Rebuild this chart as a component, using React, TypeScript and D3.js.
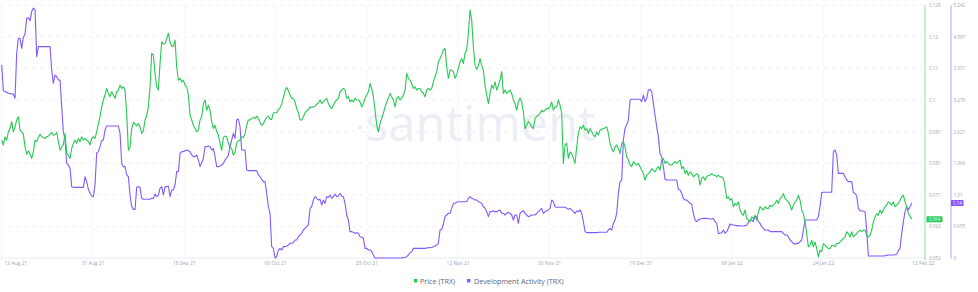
import React from "react";
import * as d3 from "d3";

// Price (TRX), sampled every 8 hours from 12 Aug 2021
const priceTRX: number[] = [
  0.0879,0.0864,0.0889,0.0879,0.0904,0.0914,0.0935,0.0904,0.0919,0.0940,
  0.0950,0.0909,0.0904,0.0897,0.0858,0.0836,0.0846,0.0836,0.0823,0.0843,
  0.0879,0.0874,0.0887,0.0897,0.0889,0.0887,0.0884,0.0889,0.0891,0.0897,
  0.0902,0.0894,0.0895,0.0902,0.0874,0.0848,0.0858,0.0865,0.0899,0.0838,
  0.0833,0.0823,0.0853,0.0869,0.0879,0.0869,0.0884,0.0874,0.0889,0.0879,
  0.0884,0.0879,0.0874,0.0864,0.0884,0.0889,0.0884,0.0904,0.0929,0.0950,
  0.0980,0.1001,0.1016,0.1036,0.1021,0.1011,0.1026,0.1016,0.1006,0.1026,
  0.1031,0.1046,0.1036,0.1041,0.1031,0.0960,0.0848,0.0858,0.0914,0.0933,
  0.0928,0.0922,0.0929,0.0919,0.0899,0.0907,0.0940,0.0952,0.0980,0.1041,
  0.1143,0.1138,0.1082,0.1041,0.1031,0.1112,0.1178,0.1171,0.1173,0.1188,
  0.1204,0.1178,0.1165,0.1163,0.1183,0.1102,0.1061,0.1067,0.1056,0.1061,
  0.1046,0.1041,0.1016,0.0955,0.0940,0.0924,0.0914,0.0904,0.0909,0.0940,
  0.0950,0.0990,0.1001,0.0970,0.0985,0.0970,0.0935,0.0914,0.0924,0.0904,
  0.0894,0.0869,0.0848,0.0887,0.0891,0.0889,0.0869,0.0858,0.0853,0.0833,
  0.0843,0.0869,0.0877,0.0879,0.0889,0.0887,0.0899,0.0924,0.0940,0.0940,
  0.0945,0.0948,0.0945,0.0952,0.0945,0.0932,0.0924,0.0928,0.0940,0.0948,
  0.0952,0.0942,0.0942,0.0962,0.0962,0.0962,0.0972,0.0977,0.0988,0.1008,
  0.1029,0.1039,0.1029,0.1016,0.1006,0.1006,0.0995,0.0975,0.0962,0.0940,
  0.0940,0.0950,0.0962,0.0968,0.0972,0.0980,0.0978,0.0980,0.0982,0.0988,
  0.0992,0.1001,
  0.0990,0.0995,0.1001,0.1006,0.0990,0.0980,0.0975,0.0985,0.0995,0.1001,
  0.1006,0.1026,0.1031,0.1036,0.1031,0.1006,0.1011,0.0995,0.1001,0.0995,
  0.1006,0.1001,0.1001,0.0995,0.0980,0.0990,0.1006,0.1016,0.1026,0.1051,
  0.1036,0.1011,0.0970,0.0924,0.0904,0.0929,0.0945,0.0960,0.0980,0.0995,
  0.1006,0.1021,0.1011,0.1001,0.0980,0.1006,0.1011,0.1001,0.1006,0.1016,
  0.1031,0.1082,0.1067,0.1061,0.1051,0.1036,0.1041,0.1031,0.1036,0.1036,
  0.1026,0.1021,0.1011,0.1031,0.1036,0.1031,0.1036,0.1056,0.1072,0.1087,
  0.1117,0.1127,0.1138,0.1153,0.1158,0.1102,0.1067,0.1092,0.1092,0.1087,
  0.1067,0.1077,0.1097,0.1117,0.1127,0.1112,0.1143,0.1153,0.1204,0.1275,
  0.1244,0.1163,0.1107,0.1094,0.1105,0.1127,0.1107,0.1092,0.1046,0.1016,
  0.0990,0.1021,0.1046,0.1036,0.1056,0.1031,0.1046,0.1061,0.1087,0.1021,
  0.1031,0.1021,0.1026,0.1031,0.1021,0.1001,0.0990,0.0970,0.0995,0.1006,
  0.0995,0.0965,0.0914,0.0924,0.0935,0.0929,0.0919,0.0914,0.0945,0.0950,
  0.0955,0.0960,0.0970,0.0965,0.0970,0.0975,0.0975,0.0980,0.0995,0.0970,
  0.0980,0.0980,0.1001,0.0985,0.0960,0.0808,0.0864,0.0869,0.0823,0.0843,
  0.0838,0.0823,0.0808,0.0858,0.0899,0.0919,0.0914,0.0924,0.0909,0.0914,
  0.0899,0.0914,0.0904,0.0894,0.0889,0.0904,0.0894,0.0909,
  0.0912,0.0914,0.0916,0.0919,0.0899,0.0869,0.0853,0.0843,0.0858,0.0864,
  0.0853,0.0838,0.0869,0.0874,0.0858,0.0828,0.0818,0.0803,0.0798,0.0813,
  0.0808,0.0803,0.0808,0.0798,0.0787,0.0777,0.0757,0.0772,0.0777,0.0782,
  0.0792,0.0787,0.0782,0.0792,0.0798,0.0787,0.0818,0.0823,0.0808,0.0813,
  0.0808,0.0803,0.0803,0.0808,0.0813,0.0808,0.0813,0.0818,0.0792,0.0798,
  0.0777,0.0787,0.0772,0.0782,0.0777,0.0767,0.0772,0.0777,0.0772,0.0742,
  0.0762,0.0767,0.0757,0.0767,0.0772,0.0772,0.0777,0.0772,0.0772,0.0767,
  0.0772,0.0767,0.0767,0.0762,0.0737,0.0701,0.0706,0.0696,0.0701,0.0676,
  0.0686,0.0681,0.0691,0.0666,0.0655,0.0650,0.0666,0.0640,0.0635,0.0630,
  0.0645,0.0640,0.0650,0.0635,0.0660,0.0676,0.0671,0.0666,0.0676,0.0671,
  0.0671,0.0681,0.0676,0.0681,0.0686,0.0696,0.0686,0.0701,0.0706,0.0716,
  0.0701,0.0696,0.0691,0.0681,0.0666,0.0681,0.0691,0.0696,0.0711,0.0696,
  0.0666,0.0655,0.0630,0.0595,0.0554,0.0559,0.0574,0.0554,0.0569,0.0549,
  0.0523,0.0544,0.0539,0.0564,0.0559,0.0554,0.0549,0.0549,0.0559,0.0559,
  0.0554,0.0564,0.0564,0.0569,0.0574,0.0579,0.0584,0.0600,0.0595,0.0584,
  0.0600,0.0584,0.0589,0.0595,0.0600,0.0605,0.0600,0.0605,0.0605,0.0589,
  0.0584,0.0589,0.0605,0.0630,0.0645,0.0655,0.0650,0.0666,0.0655,0.0666,
  0.0676,0.0681,0.0691,0.0686,0.0681,0.0691,0.0676,0.0681,0.0686,0.0696,
  0.0706,0.0711,0.0691,0.0676,0.0655,0.0648,0.0638,
];

// Development Activity (TRX), same sampling
const devActivityTRX: number[] = [
  4.000,3.467,3.447,3.433,3.412,3.405,3.398,3.398,3.308,4.241,
  4.552,4.545,4.344,4.572,4.635,4.966,4.980,4.918,5.104,5.180,
  5.146,4.172,4.379,4.379,4.379,4.379,4.379,4.379,4.379,4.379,
  3.896,3.619,3.792,3.757,3.688,3.688,3.136,2.618,2.445,1.962,
  1.927,1.858,1.478,1.464,1.464,1.464,1.464,1.464,1.464,1.464,
  1.685,1.582,1.423,1.340,1.285,1.271,1.513,2.183,2.203,2.307,
  2.431,2.445,2.652,2.735,2.735,2.735,2.735,2.735,2.735,2.735,
  2.735,2.583,1.962,1.893,1.893,1.720,1.685,1.305,1.064,1.008,
  1.008,1.464,1.478,1.464,1.236,1.216,1.216,1.216,1.216,1.216,
  1.236,1.236,1.326,1.271,1.305,1.444,1.478,1.305,1.478,1.478,
  1.492,1.271,1.409,1.409,1.513,1.789,1.789,2.169,2.203,2.203,
  2.224,2.238,2.224,2.203,2.134,2.100,2.100,2.134,2.031,1.893,
  1.975,2.065,2.307,2.307,2.321,2.307,2.238,2.272,2.100,1.893,
  1.893,1.906,1.927,1.962,2.031,2.065,2.134,2.307,2.445,2.583,
  2.480,2.859,2.880,2.721,2.238,2.238,2.238,1.823,1.810,1.810,
  1.810,1.810,1.810,1.810,1.720,1.685,1.630,1.582,1.582,1.340,
  1.064,0.926,0.235,0.200,0.000,0.028,0.166,0.200,0.166,0.235,
  0.235,0.249,0.269,0.304,0.304,0.318,0.373,0.373,0.442,0.477,
  0.511,0.580,0.615,0.649,0.684,1.029,1.064,1.202,1.271,1.236,
  1.202,1.216,
  1.098,1.202,1.133,1.271,1.257,1.305,1.236,1.271,1.326,1.271,
  1.285,1.340,1.285,1.271,1.133,0.891,0.787,0.546,0.546,0.532,
  0.511,0.525,0.511,0.442,0.428,0.408,0.200,0.200,0.166,0.166,
  0.131,0.062,0.000,0.000,0.000,0.000,0.000,0.000,0.000,0.000,
  0.000,0.000,0.000,0.000,0.000,0.000,0.000,0.000,0.000,0.007,
  0.014,0.028,0.062,0.111,0.131,0.200,0.200,0.200,0.200,0.200,
  0.200,0.200,0.200,0.207,0.214,0.214,0.221,0.235,0.249,0.269,
  0.304,0.580,0.594,0.705,0.856,0.891,0.926,0.926,1.029,1.133,
  1.133,1.153,1.167,1.167,1.167,1.167,1.167,1.167,1.236,1.271,
  1.236,1.223,1.202,1.202,1.167,1.153,1.133,1.064,1.029,0.960,
  0.856,0.960,0.960,0.981,0.960,0.960,0.981,0.995,0.926,0.926,
  0.891,0.926,0.946,0.926,0.891,0.787,0.891,0.891,0.718,0.926,
  0.960,0.981,0.926,0.891,0.856,0.870,0.891,0.891,0.891,0.926,
  0.960,0.995,1.029,0.926,0.960,0.981,0.995,1.029,1.202,1.167,
  1.064,1.050,1.050,1.050,1.050,1.050,1.050,1.029,1.008,1.029,
  0.995,0.960,0.926,0.974,0.960,0.995,0.926,0.753,0.546,0.525,
  0.525,0.525,0.525,0.525,0.525,0.525,0.532,0.532,
  0.532,0.532,0.532,0.532,0.580,0.615,0.580,0.718,0.787,0.926,
  1.340,1.582,1.616,2.445,2.687,2.756,2.859,3.274,3.288,3.288,
  3.288,3.288,3.288,3.288,3.239,3.377,3.239,3.308,3.481,3.495,
  3.447,3.205,2.963,2.721,2.514,2.155,2.100,1.893,1.630,1.616,
  1.616,1.616,1.616,1.616,1.616,1.616,1.423,1.409,1.340,1.236,
  1.202,1.202,1.167,1.133,1.119,0.926,0.787,0.753,0.787,0.808,
  0.815,0.822,0.822,0.822,0.815,0.808,0.808,0.822,0.753,0.718,
  0.511,0.511,0.525,0.580,0.511,0.546,0.615,0.705,0.684,0.684,
  0.677,0.670,0.670,0.663,0.663,0.663,0.670,0.684,0.732,0.787,
  0.787,0.753,0.870,0.856,0.753,0.718,0.649,0.615,0.580,0.580,
  0.580,0.546,0.546,0.546,0.546,0.546,0.546,0.546,0.546,0.511,
  0.477,0.477,0.442,0.373,0.338,0.304,0.283,0.304,0.304,0.338,
  0.373,0.580,0.787,0.787,0.787,0.787,0.787,0.787,0.787,0.787,
  0.856,1.064,1.354,1.361,1.361,1.361,1.361,1.361,1.361,2.203,
  2.238,2.134,1.754,1.754,1.754,1.754,1.685,1.616,1.582,1.582,
  1.582,1.354,1.340,1.285,1.029,0.981,0.974,0.967,0.960,0.580,
  0.041,0.041,0.041,0.041,0.041,0.041,0.041,0.041,0.041,0.041,
  0.048,0.055,0.062,0.062,0.062,0.062,0.069,0.083,0.152,0.200,
  0.511,0.753,0.960,1.064,0.995,1.064,1.140,
];

const START_UTC = Date.UTC(2021, 7, 12);
const STEP_HOURS = 8;

const xTickLabels = [
  "12 Aug 21", "31 Aug 21", "18 Sep 21", "06 Oct 21", "25 Oct 21", "12 Nov 21",
  "30 Nov 21", "19 Dec 21", "06 Jan 22", "24 Jan 22", "12 Feb 22",
];
const priceTickLabels = ["0.052", "0.062", "0.071", "0.081", "0.091", "0.1", "0.11", "0.12", "0.129"];
const devTickLabels = ["0", "0.655", "1.31", "1.966", "2.621", "3.276", "3.931", "4.587", "5.242"];
const priceDomain = [0.052, 0.129];
const devDomain = [0, 5.242];
const seriesNames = ["Price (TRX)", "Development Activity (TRX)"];

const GREEN = "#26c953";
const PURPLE = "#8358ff";
const LABEL = "#9ea5b8";

export default function App() {
  const W = 978, H = 292;
  const top = 5, bottom = 258;
  const n = priceTRX.length;
  const times = priceTRX.map((_, i) => new Date(START_UTC + i * STEP_HOURS * 3600e3));

  const x = d3.scaleTime().domain([times[0], times[n - 1]]).range([1.7, 911.7]);
  const xTick = d3.scalePoint<string>().domain(xTickLabels).range([1.7, 914.7]);
  const yPrice = d3.scaleLinear().domain(priceDomain).range([bottom, top]);
  const yDev = d3.scaleLinear().domain(devDomain).range([bottom, top]);
  const tickIndex = d3.scaleLinear().domain([0, 8]).range([bottom, top]);

  const priceLine = d3.line<number>().x((_, i) => x(times[i])).y((d) => yPrice(d));
  const devLine = d3.line<number>().x((_, i) => x(times[i])).y((d) => yDev(d));

  const lastPrice = priceTRX[n - 1];
  const lastDev = devActivityTRX[devActivityTRX.length - 1];
  const font = "'Open Sans', 'DejaVu Sans', sans-serif";

  return (
    <svg
      width={W}
      height={H}
      style={{ position: "absolute", left: 0, top: 0, background: "#fff" }}
      fontFamily={font}
    >
      {/* watermark */}
      <circle cx={360} cy={127.5} r={2.2} fill="#eceef5" />
      <text x={365} y={141} fontSize={49} fill="#eceef5" fontFamily={font}>
        santiment
      </text>

      {/* horizontal grid */}
      {priceTickLabels.map((_, i) =>
        i === 0 ? (
          <line key={"h" + i} x1={0} x2={925} y1={tickIndex(i)} y2={tickIndex(i)} stroke="#e8eaf0" strokeWidth={1} />
        ) : (
          <line key={"h" + i} x1={0} x2={922} y1={tickIndex(i)} y2={tickIndex(i)} stroke="#eceef3" strokeWidth={0.8} strokeDasharray="4 4" />
        )
      )}
      {/* vertical grid */}
      {xTickLabels.slice(0, -1).map((l) => (
        <line key={"v" + l} x1={xTick(l)} x2={xTick(l)} y1={top} y2={bottom} stroke="#eceef3" strokeWidth={0.8} strokeDasharray="4 4" />
      ))}

      {/* series */}
      <path d={devLine(devActivityTRX) || ""} fill="none" stroke={PURPLE} strokeWidth={1.1} strokeLinejoin="round" />
      <path d={priceLine(priceTRX) || ""} fill="none" stroke={GREEN} strokeWidth={1.1} strokeLinejoin="round" />

      {/* x labels */}
      {xTickLabels.map((l, i) => {
        const last = i === xTickLabels.length - 1;
        const first = i === 0;
        return (
          <text
            key={"xl" + l}
            x={(xTick(l) || 0) + (first ? 2.5 : last ? 8.5 : 0)}
            y={263}
            fontSize={5}
            fill={LABEL}
            textAnchor={first ? "start" : "middle"}
            dominantBaseline="central"
          >
            {l}
          </text>
        );
      })}

      {/* right axes */}
      <line x1={925} x2={925} y1={top} y2={260} stroke={GREEN} strokeOpacity={0.55} strokeWidth={1} />
      <line x1={951} x2={951} y1={top} y2={258.5} stroke={PURPLE} strokeOpacity={0.55} strokeWidth={1} />
      {priceTickLabels.map((l, i) => (
        <text key={"pl" + i} x={929} y={tickIndex(i)} fontSize={4.6} fill={LABEL} dominantBaseline="central">
          {l}
        </text>
      ))}
      {devTickLabels.map((l, i) => (
        <text key={"dl" + i} x={953.5} y={tickIndex(i)} fontSize={4.6} fill={LABEL} dominantBaseline="central">
          {l}
        </text>
      ))}

      {/* last value tags */}
      <rect x={926.5} y={yPrice(lastPrice) - 3} width={16} height={6} fill={GREEN} rx={0.6} />
      <text x={934.5} y={yPrice(lastPrice)} fontSize={4.6} fill="#fff" textAnchor="middle" dominantBaseline="central">
        {d3.format(".3f")(lastPrice)}
      </text>
      <rect x={951} y={yDev(lastDev) - 3} width={12.5} height={6} fill={PURPLE} rx={0.6} />
      <text x={957.25} y={yDev(lastDev)} fontSize={4.6} fill="#fff" textAnchor="middle" dominantBaseline="central">
        {d3.format(".3~f")(lastDev)}
      </text>

      {/* legend */}
      <rect x={414} y={279} width={3.4} height={3.4} fill={GREEN} />
      <text x={420} y={280.8} fontSize={7.2} fill="#5f667b" dominantBaseline="central">
        {seriesNames[0]}
      </text>
      <rect x={467} y={279} width={3.4} height={3.4} fill={PURPLE} />
      <text x={474} y={280.8} fontSize={7.2} fill="#5f667b" dominantBaseline="central">
        {seriesNames[1]}
      </text>
    </svg>
  );
}
